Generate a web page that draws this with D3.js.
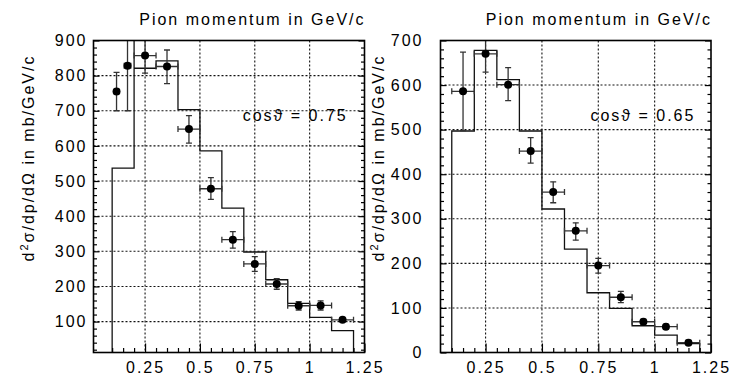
<!DOCTYPE html>
<html><head><meta charset="utf-8">
<script src="https://cdn.jsdelivr.net/npm/d3@7/dist/d3.min.js"></script>
<style>
body{margin:0;background:#fff}
svg text{font-family:"Liberation Sans",Arial,sans-serif;fill:#000;font-size:16px;letter-spacing:2px}
</style></head><body>
<svg id="c" width="732" height="377"></svg>
<script>
// ---------- data ----------
const xTickVals   = [0.25, 0.5, 0.75, 1, 1.25];
const xTickLabels = ["0.25", "0.5", "0.75", "1", "1.25"];
const xMinorVals  = [0.1,0.15,0.2,0.3,0.35,0.4,0.45,0.55,0.6,0.65,0.7,0.8,0.85,0.9,0.95,1.05,1.1,1.15,1.2];
const xGridVals   = [0.25, 0.5, 0.75, 1];

// left panel: cos(theta) = 0.75
const leftYTicks  = [100,200,300,400,500,600,700,800,900];
const leftYGrid   = [100,200,300,400,500,600,700,800];
const leftHistLo  = [0.1, 0.2, 0.2, 0.3, 0.4, 0.5, 0.6, 0.7, 0.8, 0.9, 1.0, 1.1];
const leftHistHi  = [0.2, 0.2, 0.3, 0.4, 0.5, 0.6, 0.7, 0.8, 0.9, 1.0, 1.1, 1.2];
const leftHistVal = [537, 1000, 821, 842, 703, 586, 423, 298, 219, 152, 112, 74];
const leftPx      = [0.12, 0.17, 0.25, 0.35, 0.45, 0.55, 0.65, 0.75, 0.85, 0.95, 1.05, 1.15];
const leftPy      = [755, 828, 857, 826, 648, 478, 333, 264, 207, 145, 146, 105];
const leftPyLo    = [700, 700, 807, 777, 608, 448, 309, 243, 192, 133, 133, 100];
const leftPyHi    = [809, 960, 907, 873, 686, 510, 356, 285, 222, 157, 159, 110];
const leftPxErr   = [0.01, 0.015, 0.05, 0.05, 0.05, 0.05, 0.05, 0.05, 0.05, 0.05, 0.05, 0.05];

// right panel: cos(theta) = 0.65
const rightYTicks  = [0,100,200,300,400,500,600,700];
const rightYGrid   = [100,200,300,400,500,600];
const rightHistLo  = [0.1, 0.2, 0.3, 0.4, 0.5, 0.6, 0.7, 0.8, 0.9, 1.0, 1.1];
const rightHistHi  = [0.2, 0.3, 0.4, 0.5, 0.6, 0.7, 0.8, 0.9, 1.0, 1.1, 1.2];
const rightHistVal = [497, 678, 612, 497, 322, 232, 134, 99, 60, 39, 20];
const rightPx      = [0.15, 0.25, 0.35, 0.45, 0.55, 0.65, 0.75, 0.85, 0.95, 1.05, 1.15];
const rightPy      = [586, 670, 601, 452, 360, 273, 195, 124, 69, 58, 22];
const rightPyLo    = [498, 629, 565, 425, 336, 252, 178, 112, 64, 53, 18];
const rightPyHi    = [674, 712, 639, 482, 383, 291, 211, 137, 74, 63, 27];
const rightPxErr   = [0.05,0.05,0.05,0.05,0.05,0.05,0.05,0.05,0.05,0.05,0.05];

const titleText = "Pion momentum in GeV/c";
const leftLabel = "cos\u03D1 = 0.75";
const rightLabel = "cos\u03D1 = 0.65";

// ---------- drawing ----------
const svg = d3.select("#c");

function minorOf(step, lo, hi){
  const out=[];
  for(let v=Math.ceil(lo/step)*step; v<=hi+1e-9; v+=step){ const r=Math.round(v); if(r%100!==0) out.push(r);}
  return out;
}

function panel(o){
  const x = d3.scaleLinear().domain(o.xDomain).range([o.x0, o.x1]);
  const y = d3.scaleLinear().domain(o.yDomain).range([o.y1, o.y0]);
  const g = svg.append("g");
  const cid = "clip"+o.id;
  svg.append("clipPath").attr("id",cid).append("rect")
     .attr("x",o.x0).attr("y",o.y0).attr("width",o.x1-o.x0).attr("height",o.y1-o.y0);

  // dotted grid
  g.append("g").selectAll("line").data(xGridVals).join("line")
    .attr("x1",d=>x(d)).attr("x2",d=>x(d)).attr("y1",o.y0).attr("y2",o.y1)
    .attr("stroke","#111").attr("stroke-width",1.1).attr("stroke-dasharray","2 2");
  g.append("g").selectAll("line").data(o.yGrid).join("line")
    .attr("x1",o.x0).attr("x2",o.x1).attr("y1",d=>y(d)).attr("y2",d=>y(d))
    .attr("stroke","#111").attr("stroke-width",1.1).attr("stroke-dasharray","2 2");

  const plot = g.append("g").attr("clip-path",`url(#${cid})`);

  // histogram
  let p = `M${x(o.hLo[0])},${y.range()[0]}`;
  o.hVal.forEach((v,i)=>{ p += `V${y(v)}H${x(o.hHi[i])}`; });
  p += `V${y.range()[0]}`;
  plot.append("path").attr("d",p).attr("fill","none").attr("stroke","#111").attr("stroke-width",1.3);

  // error bars + points
  const cap = 3;
  const eb = plot.append("g").attr("stroke","#333").attr("stroke-width",1.3);
  o.px.forEach((px,i)=>{
    const cx=x(px), cy=y(o.py[i]);
    const ylo=y(o.pyLo[i]), yhi=y(o.pyHi[i]);
    const xl=x(px-o.pxErr[i]), xr=x(px+o.pxErr[i]);
    eb.append("line").attr("x1",cx).attr("x2",cx).attr("y1",ylo).attr("y2",yhi);
    eb.append("line").attr("x1",cx-cap).attr("x2",cx+cap).attr("y1",ylo).attr("y2",ylo);
    eb.append("line").attr("x1",cx-cap).attr("x2",cx+cap).attr("y1",yhi).attr("y2",yhi);
    eb.append("line").attr("x1",xl).attr("x2",xr).attr("y1",cy).attr("y2",cy);
    eb.append("line").attr("x1",xl).attr("x2",xl).attr("y1",cy-cap).attr("y2",cy+cap);
    eb.append("line").attr("x1",xr).attr("x2",xr).attr("y1",cy-cap).attr("y2",cy+cap);
  });
  plot.selectAll("circle").data(o.px).join("circle")
    .attr("cx",d=>x(d)).attr("cy",(d,i)=>y(o.py[i])).attr("r",4).attr("fill","#000");

  // axes
  const axB = d3.axisBottom(x).tickValues(xTickVals).tickFormat((d,i)=>xTickLabels[i])
     .tickSizeInner(-9).tickSizeOuter(0).tickPadding(9);
  const gB = g.append("g").attr("transform",`translate(0,${o.y1})`).call(axB);
  const axBm = d3.axisBottom(x).tickValues(xMinorVals).tickFormat("").tickSizeInner(-4.5).tickSizeOuter(0);
  const gBm = g.append("g").attr("transform",`translate(0,${o.y1})`).call(axBm);

  const axL = d3.axisLeft(y).tickValues(o.yTicks).tickFormat(d3.format("d"))
     .tickSizeInner(-6).tickSizeOuter(0).tickPadding(o.labPad);
  const gL = g.append("g").attr("transform",`translate(${o.x0},0)`).call(axL);
  const minors = minorOf(20, o.yDomain[0], o.yDomain[1]);
  const gLm = g.append("g").attr("transform",`translate(${o.x0},0)`)
     .call(d3.axisLeft(y).tickValues(minors).tickFormat("").tickSizeInner(-3.5).tickSizeOuter(0));
  const gR = g.append("g").attr("transform",`translate(${o.x1},0)`)
     .call(d3.axisRight(y).tickValues(o.yTicks).tickFormat("").tickSizeInner(-6).tickSizeOuter(0));
  const gRm = g.append("g").attr("transform",`translate(${o.x1},0)`)
     .call(d3.axisRight(y).tickValues(minors).tickFormat("").tickSizeInner(-3.5).tickSizeOuter(0));
  [gB,gBm,gL,gLm,gR,gRm].forEach(a=>{
    a.attr("font-family",null).attr("font-size",null);
    a.select(".domain").remove();
    a.selectAll("line").attr("stroke","#000").attr("stroke-width",1.2);
  });

  // frame
  g.append("rect").attr("x",o.x0).attr("y",o.y0).attr("width",o.x1-o.x0).attr("height",o.y1-o.y0)
   .attr("fill","none").attr("stroke","#000").attr("stroke-width",1.6);

  // texts
  svg.append("text").attr("x",o.x1+1).attr("y",25).attr("text-anchor","end").text(titleText);
  svg.append("text").attr("x",x(o.cosPos[0])).attr("y",y(o.cosPos[1])).text(o.cosText);
  const yt = svg.append("text").attr("text-anchor","middle")
     .attr("transform",`translate(${o.ytX},158) rotate(-90)`);
  yt.append("tspan").text("d");
  yt.append("tspan").attr("dy",-6).style("font-size","11px").text("2");
  yt.append("tspan").attr("dy",6).text("\u03C3/dp/d\u03A9 in mb/GeV/c");
}

panel({id:"L", xDomain:[0.015,1.25], yDomain:[12,900], x0:93.5, x1:364.5, y0:40.5, y1:352.5,
  yTicks:leftYTicks, yGrid:leftYGrid, hLo:leftHistLo, hHi:leftHistHi, hVal:leftHistVal,
  px:leftPx, py:leftPy, pyLo:leftPyLo, pyHi:leftPyHi, pxErr:leftPxErr, labPad:6,
  cosText:leftLabel, cosPos:[0.695, 671], ytX:34});
panel({id:"R", xDomain:[0.05,1.25], yDomain:[0,700], x0:440.5, x1:711, y0:40.5, y1:352.5,
  yTicks:rightYTicks, yGrid:rightYGrid, hLo:rightHistLo, hHi:rightHistHi, hVal:rightHistVal,
  px:rightPx, py:rightPy, pyLo:rightPyLo, pyHi:rightPyHi, pxErr:rightPxErr, labPad:17,
  cosText:rightLabel, cosPos:[0.715, 519], ytX:384});
</script>
</body></html>
